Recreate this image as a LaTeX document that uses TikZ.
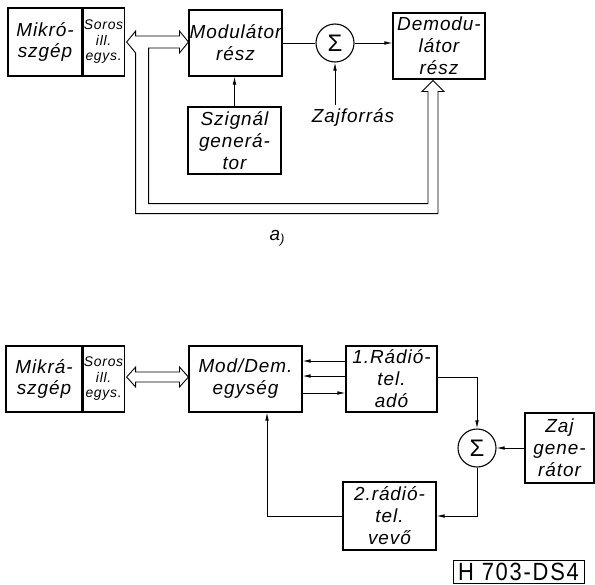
\documentclass[tikz,border=0pt]{standalone}
\usepackage{fontspec}
\setmainfont{Liberation Sans}
\usetikzlibrary{positioning,arrows.meta,calc}

\newfontfamily\letterfont[LetterSpace=5]{Liberation Sans}
\newfontfamily\codefont[LetterSpace=8]{Liberation Sans}
\newcommand{\lettr}{\letterfont\itshape\fontsize{19}{22}\selectfont}
\newcommand{\lettrsmall}{\letterfont\itshape\fontsize{14}{15.5}\selectfont}

\begin{document}
\begin{tikzpicture}[
  x=1bp, y=-1bp,
  >={Latex[length=8bp,width=3.6bp]},
  blk/.style={draw, line width=1.1bp, inner sep=0pt, align=center, font=\lettr},
  half/.style={blk, font=\lettrsmall},
  sumc/.style={circle, draw, line width=1.1bp, minimum size=38bp, inner sep=0pt,
               font=\fontsize{24}{24}\selectfont},
  wire/.style={line width=0.8bp},
  bus/.style={line width=0.9bp, line join=miter},
]
\useasboundingbox (0,0) rectangle (595,585);

% ---- a) arrangement ----
\node[blk, minimum width=74bp, minimum height=68bp] (mikro) at (45,42) {Mikró-\\szgép};
\node[half, minimum width=41bp, minimum height=68bp, right=0pt of mikro] (soros) {Soros\\ill.\\egys.};
\node[blk, minimum width=93bp, minimum height=66bp] (mod) at (235.5,43) {Modulátor\\rész};
\node[sumc] (sum) at (335,43) {Σ};
\node[blk, minimum width=92bp, minimum height=66bp] (demod) at (439,46) {Demodu-\\látor\\rész};
\node[blk, minimum width=93bp, minimum height=67bp] (sig) at (234.5,140.5) {Szignál\\generá-\\tor};
\node[font=\lettr] (zajf) at (353,117) {Zajforrás};

\draw[wire,->] (sig.north) -- (sig.north |- mod.south);
\draw[wire] (mod.east) -- (sum.west);
\draw[wire,->] (sum.east) -- (sum.east -| demod.west);
\draw[wire,->] (zajf.north -| sum.south) -- (sum.south);

% hollow bus: Soros <-> Modulator, branch round to the Demodulator
\coordinate (bl) at ([xshift=2bp]soros.east);
\coordinate (br) at (bl -| mod.west);
\coordinate (bt) at ([xshift=-6bp,yshift=-1bp]demod.south);
\coordinate (ia) at ($(bl)+(22,6)$);
\coordinate (ib) at ($(ia |- sig.south)+(0,29)$);
\coordinate (ic) at ($(ib -| bt)+(-5,0)$);
\coordinate (oc) at ($(ic)+(10,10)$);
\coordinate (ob) at ($(ib)+(-13,10)$);
\draw[bus] (bl) -- ++(9,-11) -- ++(0,5) -- ($(br)+(-9,-6)$) -- ++(0,-5) -- (br)
  -- ++(-9,11) -- ++(0,-5) -- (ia) -- (ib) -- (ic) -- ($(ic |- bt)+(0,11)$)
  -- ($(bt)+(-11,11)$) -- (bt) -- ($(bt)+(11,11)$) -- ($(oc |- bt)+(0,11)$)
  -- (oc) -- (ob) -- ($(bl)+(9,11)$) -- cycle;

\node[font=\lettr] (lbla) at (277,238) {a\raisebox{-3bp}{\fontsize{13}{13}\selectfont)}};

% ---- b) arrangement ----
\node[blk, minimum width=76bp, minimum height=66bp] (mikro2) at (44,379) {Mikrá-\\szgép};
\node[half, minimum width=41bp, minimum height=66bp, right=0pt of mikro2] (soros2) {Soros\\ill.\\egys.};
\node[blk, minimum width=113bp, minimum height=66bp] (moddem) at (245.5,379) {Mod/Dem.\\egység};
\node[blk, minimum width=91bp, minimum height=66bp] (radio1) at (391.5,379) {1.Rádió-\\tel.\\adó};
\node[sumc] (sum2) at (477,448) {Σ};
\node[blk, minimum width=69bp, minimum height=70bp] (zajgen) at (559.5,448) {Zaj\\gene-\\rátor};
\node[blk, minimum width=93bp, minimum height=68bp] (radio2) at (389.5,516) {2.rádió-\\tel.\\vevő};
\node[draw, line width=1bp, minimum width=131bp, minimum height=23bp, inner sep=0pt,
      font=\codefont\fontsize{25}{25}\selectfont] (code) at (518.5,571.5) {\scalebox{0.88}[1]{H 703-DS4}};

\draw[wire,->] ([yshift=18bp]radio1.west) -- ([yshift=18bp]moddem.east);
\draw[wire,->] ([yshift=3bp]radio1.west) -- ([yshift=3bp]moddem.east);
\draw[wire,->] ([yshift=-14bp]moddem.east) -- ([yshift=-14bp]radio1.west);
\draw[wire,->] ([yshift=2bp]radio1.east) -| (sum2.north);
\draw[wire,->] (zajgen.west) -- (sum2.east);
\draw[wire,->] (sum2.south) |- (radio2.east);
\draw[wire,->] (radio2.west) -| ([xshift=21.5bp]moddem.south);

% hollow bus: Soros <-> Mod/Dem
\coordinate (cl) at ([xshift=2bp,yshift=2bp]soros2.east);
\coordinate (cr) at (cl -| moddem.west);
\draw[bus] (cl) -- ++(9,-10) -- ++(0,5) -- ($(cr)+(-9,-5)$) -- ++(0,-5) -- (cr)
  -- ++(-9,10) -- ++(0,-5) -- ($(cl)+(9,5)$) -- ++(0,5) -- cycle;
\end{tikzpicture}
\end{document}
